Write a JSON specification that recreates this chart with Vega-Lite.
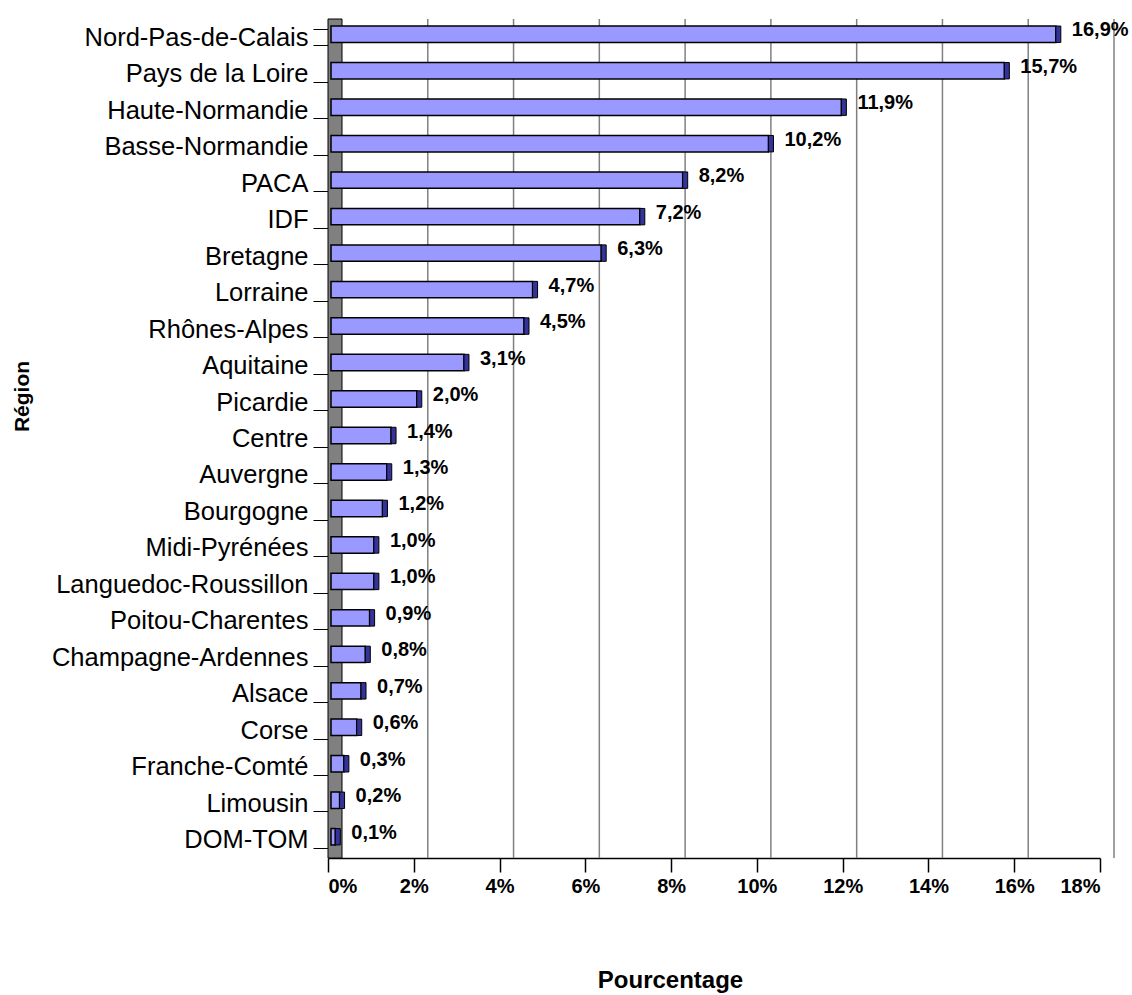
{
  "$schema": "https://vega.github.io/schema/vega-lite/v6.json",
  "width": 772,
  "height": 839,
  "autosize": {"type": "none"},
  "padding": {"left": 328, "top": 19, "right": 32, "bottom": 137},
  "background": "white",
  "config": {
    "view": {"stroke": null},
    "font": "Liberation Sans"
  },
  "datasets": {
    "regions": [
      {"region": "Nord-Pas-de-Calais", "value": 16.9, "label": "16,9%"},
      {"region": "Pays de la Loire", "value": 15.7, "label": "15,7%"},
      {"region": "Haute-Normandie", "value": 11.9, "label": "11,9%"},
      {"region": "Basse-Normandie", "value": 10.2, "label": "10,2%"},
      {"region": "PACA", "value": 8.2, "label": "8,2%"},
      {"region": "IDF", "value": 7.2, "label": "7,2%"},
      {"region": "Bretagne", "value": 6.3, "label": "6,3%"},
      {"region": "Lorraine", "value": 4.7, "label": "4,7%"},
      {"region": "Rhônes-Alpes", "value": 4.5, "label": "4,5%"},
      {"region": "Aquitaine", "value": 3.1, "label": "3,1%"},
      {"region": "Picardie", "value": 2.0, "label": "2,0%"},
      {"region": "Centre", "value": 1.4, "label": "1,4%"},
      {"region": "Auvergne", "value": 1.3, "label": "1,3%"},
      {"region": "Bourgogne", "value": 1.2, "label": "1,2%"},
      {"region": "Midi-Pyrénées", "value": 1.0, "label": "1,0%"},
      {"region": "Languedoc-Roussillon", "value": 1.0, "label": "1,0%"},
      {"region": "Poitou-Charentes", "value": 0.9, "label": "0,9%"},
      {"region": "Champagne-Ardennes", "value": 0.8, "label": "0,8%"},
      {"region": "Alsace", "value": 0.7, "label": "0,7%"},
      {"region": "Corse", "value": 0.6, "label": "0,6%"},
      {"region": "Franche-Comté", "value": 0.3, "label": "0,3%"},
      {"region": "Limousin", "value": 0.2, "label": "0,2%"},
      {"region": "DOM-TOM", "value": 0.1, "label": "0,1%"}
    ],
    "grid": [{"g": 2}, {"g": 4}, {"g": 6}, {"g": 8}, {"g": 10}, {"g": 12}, {"g": 14}, {"g": 16}, {"g": 18}]
  },
  "layer": [
    {
      "data": {"name": "grid"},
      "mark": {"type": "rule", "color": "#808080", "strokeWidth": 1.5, "xOffset": 14},
      "encoding": {
        "x": {
          "field": "g", "type": "quantitative",
          "scale": {"domain": [0, 18], "nice": false, "zero": true},
          "axis": {
            "values": [0, 2, 4, 6, 8, 10, 12, 14, 16, 18],
            "labelExpr": "datum.value + '%'",
            "labelFontSize": 20, "labelFontWeight": "bold", "labelColor": "black",
            "labelPadding": 4,
            "tickSize": 14, "tickColor": "black", "tickWidth": 1.5,
            "domainColor": "black", "domainWidth": 1.5,
            "grid": false,
            "title": "Pourcentage",
            "titleFontSize": 24, "titleFontWeight": "bold", "titleColor": "black",
            "titleX": 342, "titleY": 129, "titleAlign": "center", "titleBaseline": "alphabetic"
          }
        }
      }
    },
    {
      "data": {"values": [{"w": 0}]},
      "mark": {"type": "rect", "fill": "#808080", "stroke": "black", "strokeWidth": 1, "x2Offset": 14},
      "encoding": {
        "x": {"datum": 0, "type": "quantitative"},
        "x2": {"datum": 0}
      }
    },
    {
      "data": {"name": "regions"},
      "mark": {"type": "bar", "fill": "#9999FF", "stroke": "black", "strokeWidth": 1.5, "xOffset": 3, "yOffset": -3},
      "encoding": {
        "y": {
          "field": "region", "type": "nominal", "sort": null,
          "scale": {"paddingInner": 0.55, "paddingOuter": 0.275},
          "axis": {
            "title": "Région",
            "titleFontSize": 21, "titleFontWeight": "bold", "titleColor": "black",
            "titleX": -306, "titleY": 377, "titleAngle": -90,
            "titleAlign": "center", "titleBaseline": "middle",
            "labelFontSize": 25.5, "labelColor": "black", "labelPadding": 5, "labelLimit": 0,
            "tickBand": "extent", "tickSize": 15, "tickColor": "black", "tickWidth": 1,
            "domain": false, "grid": false
          }
        },
        "x": {"field": "value", "type": "quantitative"}
      }
    },
    {
      "data": {"name": "regions"},
      "mark": {"type": "rect", "fill": "#333399", "stroke": "black", "strokeWidth": 1, "xOffset": 3, "x2Offset": 8, "yOffset": -3},
      "encoding": {
        "y": {"field": "region", "type": "nominal", "sort": null},
        "x": {"field": "value", "type": "quantitative"},
        "x2": {"field": "value"}
      }
    },
    {
      "data": {"name": "regions"},
      "mark": {"type": "text", "align": "left", "baseline": "middle", "dx": 19, "dy": -7, "fontSize": 20, "fontWeight": "bold", "color": "black"},
      "encoding": {
        "y": {"field": "region", "type": "nominal", "sort": null},
        "x": {"field": "value", "type": "quantitative"},
        "text": {"field": "label"}
      }
    }
  ]
}
